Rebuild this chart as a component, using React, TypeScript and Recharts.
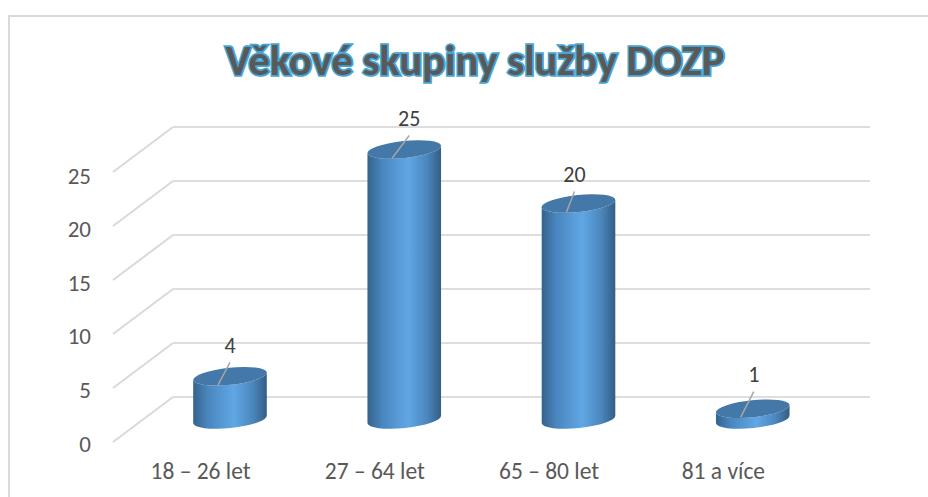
import React from "react";
import { BarChart, Bar, XAxis, YAxis, CartesianGrid, LabelList } from "recharts";

const categories = ["18 – 26 let", "27 – 64 let", "65 – 80 let", "81 a více"];
const values = [4, 25, 20, 1];
const yTicks = [0, 5, 10, 15, 20, 25];
const titleText = "Věkové skupiny služby DOZP";

const rows = categories.map((name, i) => ({ name, value: values[i] }));

// 3D look: the floor and the cylinders sit in front of the back wall
const FONT = "Carlito, 'Open Sans', 'Noto Sans', sans-serif";
const DEPTH_X = -60;
const DEPTH_Y = 45;
const BAR_DX = -30;
const BAR_DY = 22.5;
const labelShift = [0, 5, -4, 1];
const labelLift = [0, 0, 2, -3];

function Cylinder(props: any) {
  const { x, y, width, height } = props;
  const cx = x + width / 2 + BAR_DX;
  const top = y + BAR_DY;
  const bottom = y + height + BAR_DY;
  const rx = width / 2;
  const ry = 8.5;
  const rot = -6;
  const ex = rx * Math.cos((rot * Math.PI) / 180);
  const ey = -rx * Math.sin((rot * Math.PI) / 180);
  const body =
    `M${cx - ex} ${top + ey} L${cx - ex} ${bottom + ey} ` +
    `A${rx} ${ry} ${rot} 0 0 ${cx + ex} ${bottom - ey} ` +
    `L${cx + ex} ${top - ey} A${rx} ${ry} ${rot} 0 1 ${cx - ex} ${top + ey} Z`;
  return (
    <g>
      <path d={body} fill="url(#cyl)" />
      <ellipse cx={cx} cy={top} rx={rx} ry={ry} fill="#4478A8" transform={`rotate(${rot} ${cx} ${top})`} />
    </g>
  );
}

function ValueLabel(props: any) {
  const { x, y, width, value, index } = props;
  const cx = x + width / 2 + BAR_DX;
  const top = y + BAR_DY;
  const s = labelShift[index] ?? 0;
  const l = labelLift[index] ?? 0;
  return (
    <g>
      <line x1={cx - 12} y1={top + 8.5} x2={cx + s} y2={top - 14 + l} stroke="#A6A6A6" strokeWidth={1.5} />
      <text x={cx + s} y={top - 31 + l} textAnchor="middle" dominantBaseline="central" fontFamily={FONT} fontSize={22} fill="#404040">
        {value}
      </text>
    </g>
  );
}

function YTick(props: any) {
  const { x, y, payload } = props;
  return (
    <g>
      <line x1={x} y1={y} x2={x + DEPTH_X} y2={y + DEPTH_Y} stroke="#D9D9D9" strokeWidth={2} />
      <text
        x={x - 82}
        y={y + 48.5 - (y - 127) * 0.007}
        textAnchor="end"
        dominantBaseline="central"
        fontFamily={FONT}
        fontSize={23}
        fill="#595959"
      >
        {payload.value}
      </text>
    </g>
  );
}

function XTick(props: any) {
  const { x, y, payload } = props;
  return (
    <text x={x - 59.5} y={y + 72} textAnchor="middle" dominantBaseline="central" fontFamily={FONT} fontSize={23.5} fill="#595959">
      {payload.value}
    </text>
  );
}

export default function App() {
  return (
    <div style={{ position: "absolute", left: 0, top: 0, width: 928, height: 497, background: "#fff", overflow: "hidden" }}>
      <div
        style={{
          position: "absolute",
          left: 8,
          top: 15,
          width: 920,
          height: 482,
          boxSizing: "border-box",
          borderLeft: "2px solid #D9D9D9",
          borderTop: "2px solid #D9D9D9",
        }}
      />
      <div style={{ position: "absolute", left: 0, top: 0 }}>
        <BarChart width={928} height={497} data={rows} margin={{ top: 127, right: 58, bottom: 99, left: 172 }}>
          <defs>
            <linearGradient id="cyl" x1="0" y1="0" x2="1" y2="0">
              <stop offset="0" stopColor="#35628C" />
              <stop offset="0.2" stopColor="#4A86BF" />
              <stop offset="0.55" stopColor="#60A7E5" />
              <stop offset="0.8" stopColor="#4C88BF" />
              <stop offset="1" stopColor="#335E86" />
            </linearGradient>
          </defs>
          <text
            x={475}
            y={60}
            textAnchor="middle"
            dominantBaseline="central"
            fontFamily={FONT}
            fontWeight={700}
            fontSize={42.5}
            fill="#595959"
            stroke="#45A5D5"
            strokeWidth={3.5}
            paintOrder="stroke"
          >
            {titleText}
          </text>
          <CartesianGrid horizontal vertical={false} stroke="#DEDEDE" strokeWidth={2} />
          <XAxis dataKey="name" axisLine={false} tickLine={false} tickSize={0} height={1} tick={<XTick />} interval={0} />
          <YAxis domain={[0, 25]} ticks={yTicks} axisLine={false} tickLine={false} tickSize={0} width={1} tick={<YTick />} tickMargin={0} />
          <Bar dataKey="value" barSize={74} shape={<Cylinder />} isAnimationActive={false}>
            <LabelList dataKey="value" content={<ValueLabel />} />
          </Bar>
        </BarChart>
      </div>
    </div>
  );
}
